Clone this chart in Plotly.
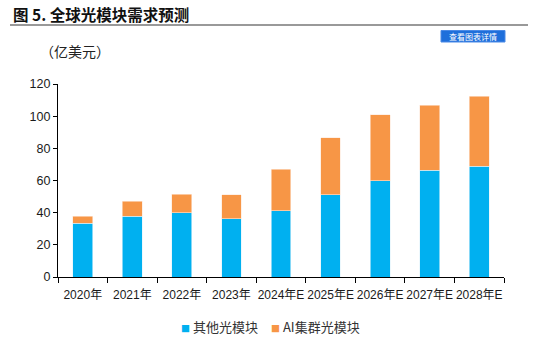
import plotly.graph_objects as go

categories = ["2020年", "2021年", "2022年", "2023年", "2024年E", "2025年E", "2026年E", "2027年E", "2028年E"]
other_modules = [33.4, 37.7, 40.0, 36.2, 41.2, 51.0, 59.9, 66.5, 69.0]
ai_totals = [37.9, 47.2, 51.6, 51.2, 66.9, 86.6, 100.9, 106.9, 112.3]
ai_modules = [round(t - o, 1) for t, o in zip(ai_totals, other_modules)]
y_ticks = [0, 20, 40, 60, 80, 100, 120]
series_names = ["其他光模块", "AI集群光模块"]
series_colors = ["#00B0F0", "#F79646"]

W, H = 550, 338
L, R, T, B = 58, 46, 84, 61
PW, PH = W - L - R, H - T - B

def px(x):
    return (x - L) / PW

def py(y):
    return (H - B - y) / PH

FONT = "Liberation Sans, Arial, Noto Sans CJK SC, sans-serif"
CJK = "Noto Sans CJK SC, sans-serif"

fig = go.Figure()
fig.add_trace(go.Bar(x=categories, y=other_modules, name=series_names[0],
                     marker=dict(color=series_colors[0], line=dict(color="#dff4fb", width=0.6))))
fig.add_trace(go.Bar(x=categories, y=ai_modules, name=series_names[1],
                     marker=dict(color=series_colors[1], line=dict(color="#fde8d8", width=0.6))))

fig.update_layout(
    width=W, height=H, barmode="stack", bargap=0.6,
    margin=dict(l=L, r=R, t=T, b=B, autoexpand=False),
    paper_bgcolor="white", plot_bgcolor="white",
    font=dict(family=FONT, size=12, color="#1a1a1a"),
    showlegend=False,
    xaxis=dict(showline=True, linecolor="#000000", linewidth=1.2, ticks="outside",
               tickson="boundaries", ticklen=5, tickcolor="#000000", tickangle=0,
               ticklabelstandoff=6,
               tickfont=dict(size=12, color="#1a1a1a"), showgrid=False, automargin=False),
    yaxis=dict(range=[0, 120], tickvals=y_ticks, showline=True, linecolor="#000000",
               linewidth=1.2, ticks="outside", ticklen=4, tickcolor="#000000",
               tickfont=dict(size=12.5, color="#1a1a1a"), showgrid=False, zeroline=False,
               automargin=False),
)

# legend drawn as text with coloured square glyphs
legend_x = [179, 269]
for name, color, lx in zip(series_names, series_colors, legend_x):
    fig.add_annotation(
        text=f"<span style='color:{color};font-size:9px'>■</span> {name}",
        xref="paper", yref="paper", x=px(lx), y=py(326), xanchor="left", yanchor="middle",
        showarrow=False, font=dict(size=13, color="#333333", family=CJK))

# title and separator line
fig.add_annotation(text="<b>图 5. 全球光模块需求预测</b>", xref="paper", yref="paper",
                   x=px(11), y=py(14), xanchor="left", yanchor="middle", showarrow=False,
                   font=dict(size=15.5, color="#111111", family=CJK))
fig.add_shape(type="line", xref="paper", yref="paper", x0=px(10), x1=px(528),
              y0=py(25), y1=py(25), line=dict(color="#777777", width=1.5))

# button
fig.add_shape(type="rect", xref="paper", yref="paper", x0=px(441), x1=px(505),
              y0=py(30.5), y1=py(42), fillcolor="#1E6FDB", line=dict(color="#4a8ae6", width=1))
fig.add_annotation(text="查看图表详情", xref="paper", yref="paper",
                   x=px(473), y=py(36.3), xanchor="center", yanchor="middle", showarrow=False,
                   font=dict(size=8, color="white", family=CJK))

# unit label
fig.add_annotation(text="（亿美元）", xref="paper", yref="paper",
                   x=px(38), y=py(51), xanchor="left", yanchor="middle", showarrow=False,
                   font=dict(size=14, color="#222222", family=CJK))

fig.write_html("out.html")
